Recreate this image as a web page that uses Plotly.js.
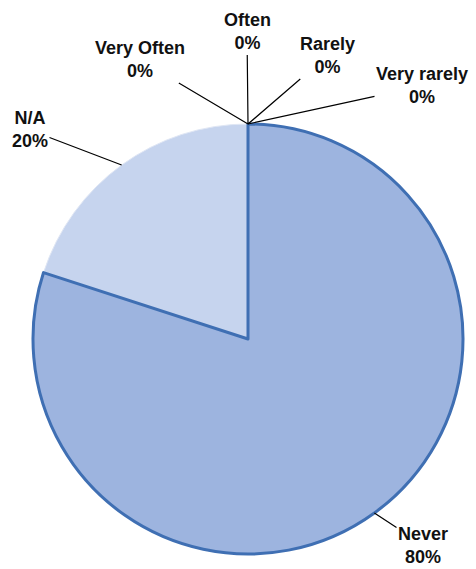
<!DOCTYPE html>
<html>
<head>
<meta charset="utf-8">
<script src="https://cdn.plot.ly/plotly-3.0.1.min.js"></script>
<style>html,body{margin:0;padding:0;background:#fff;}#chart{width:476px;height:569px;}</style>
</head>
<body>
<div id="chart"></div>
<script>
// Data
var categories = ["Very Often", "Often", "Rarely", "Very rarely", "Never", "N/A"];
var percentValues = [0, 0, 0, 0, 80, 20];
var percentLabels = ["0%", "0%", "0%", "0%", "80%", "20%"];

// Layout (pixels)
var W = 476, H = 569;
var CX = 248, CY = 339, R = 215;
// label text centres (layout only), same order as categories
var labelPos = [[140, 60], [247, 32], [327, 56], [422, 86], [423, 545], [30, 130]];

var sliceColors = {"Never": "#9db4df", "N/A": "#c6d4ee"};
var sliceLines = {"Never": "#3f6fb3", "N/A": "#dfe6f4"};
var sliceWidths = {"Never": 3, "N/A": 1};

// Draw nonzero slices; reversed order + counterclockwise so Never is drawn last (border on top)
var drawLabels = [], drawValues = [], drawColors = [], drawLineC = [], drawLineW = [];
for (var i = categories.length - 1; i >= 0; i--) {
  if (percentValues[i] > 0) {
    drawLabels.push(categories[i]);
    drawValues.push(percentValues[i]);
    drawColors.push(sliceColors[categories[i]]);
    drawLineC.push(sliceLines[categories[i]]);
    drawLineW.push(sliceWidths[categories[i]]);
  }
}
var total = percentValues.reduce(function (a, b) { return a + b; }, 0);

var trace = {
  type: "pie",
  labels: drawLabels,
  values: drawValues,
  sort: false,
  direction: "counterclockwise",
  rotation: -360 * drawValues[0] / total,
  textinfo: "none",
  hoverinfo: "label+percent",
  marker: {colors: drawColors, line: {color: drawLineC, width: drawLineW}},
  domain: {x: [(CX - R) / W, (CX + R) / W], y: [1 - (CY + R) / H, 1 - (CY - R) / H]},
  showlegend: false
};

// annotations: anchor at slice mid-angle on circumference (clockwise from top)
var annotations = [];
var cum = 0;
for (var j = 0; j < categories.length; j++) {
  var mid = (cum + percentValues[j] / 2) / total * 2 * Math.PI;
  cum += percentValues[j];
  var axp = CX + R * Math.sin(mid);
  var ayp = CY - R * Math.cos(mid);
  annotations.push({
    xref: "paper", yref: "paper",
    x: axp / W, y: 1 - ayp / H,
    ax: labelPos[j][0] - axp, ay: labelPos[j][1] - ayp,
    text: "<b>" + categories[j] + "<br>" + percentLabels[j] + "</b>",
    showarrow: true, arrowhead: 0, arrowwidth: 1.2, arrowcolor: "#000",
    standoff: 0, startstandoff: 0,
    font: {family: "Liberation Sans, Arial, sans-serif", size: 18, color: "#111"},
    align: "center"
  });
}

var layout = {
  width: W, height: H,
  margin: {l: 0, r: 0, t: 0, b: 0},
  paper_bgcolor: "#ffffff",
  annotations: annotations
};

Plotly.newPlot("chart", [trace], layout, {displayModeBar: false, staticPlot: true});
</script>
</body>
</html>
